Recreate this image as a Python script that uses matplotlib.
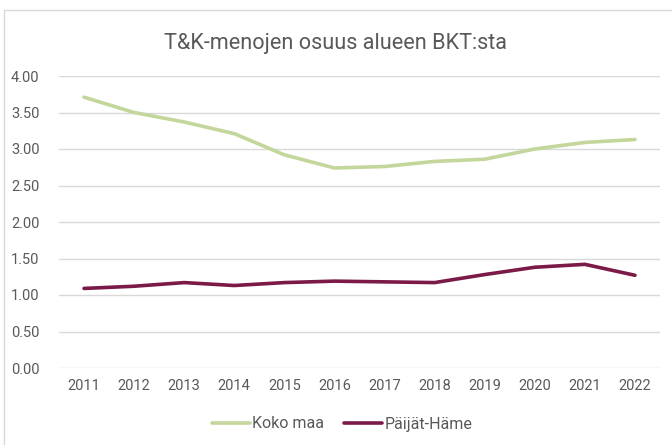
import matplotlib.pyplot as plt
from matplotlib.patches import Rectangle

years = ["2011", "2012", "2013", "2014", "2015", "2016",
         "2017", "2018", "2019", "2020", "2021", "2022"]
koko_maa = [3.71, 3.50, 3.37, 3.21, 2.92, 2.74, 2.76, 2.83, 2.86, 3.00, 3.09, 3.13]
paijat_hame = [1.09, 1.12, 1.17, 1.13, 1.17, 1.19, 1.18, 1.17, 1.28, 1.38, 1.42, 1.27]

plt.rcParams['font.family'] = ['Roboto', 'DejaVu Sans']

fig = plt.figure(figsize=(6.72, 4.45), dpi=100)
# chart frame
fig.patches.append(Rectangle((4 / 672, -0.01), 1.0, 1 - 10 / 445 + 0.01,
                             transform=fig.transFigure, fill=False,
                             edgecolor="#d9d9d9", linewidth=1))

ax = fig.add_axes([59 / 672, 77 / 445, 601 / 672, 292 / 445])
x = list(range(len(years)))
ax.plot(x, koko_maa, color="#c3d69b", linewidth=2.6, label="Koko maa",
        solid_capstyle="round", solid_joinstyle="round")
ax.plot(x, paijat_hame, color="#7b1a47", linewidth=2.6, label="Päijät-Häme",
        solid_capstyle="round", solid_joinstyle="round")

ax.set_xlim(-0.5, len(years) - 0.5)
ax.set_ylim(0, 4)
ax.set_yticks([0, 0.5, 1, 1.5, 2, 2.5, 3, 3.5, 4])
ax.set_yticklabels([f"{v:.2f}" for v in ax.get_yticks()])
ax.set_xticks(x)
ax.set_xticklabels(years)
ax.grid(axis="y", color="#d9d9d9", linewidth=1)
ax.set_axisbelow(True)
for s in ax.spines.values():
    s.set_visible(False)
ax.tick_params(length=0, labelsize=10.5, colors="#595959", pad=8)
ax.tick_params(axis="y", pad=14)

fig.text(0.5, 1 - 43 / 445, "T&K-menojen osuus alueen BKT:sta",
         ha="center", va="center", fontsize=15.6, color="#595959")

fig.legend(loc="center", bbox_to_anchor=(342 / 672, 21 / 445), ncol=2, frameon=False,
           fontsize=11.5, labelcolor="#595959", handlelength=2.4,
           handletextpad=0.15, columnspacing=1.2)

fig.savefig("out.png", dpi=100)
